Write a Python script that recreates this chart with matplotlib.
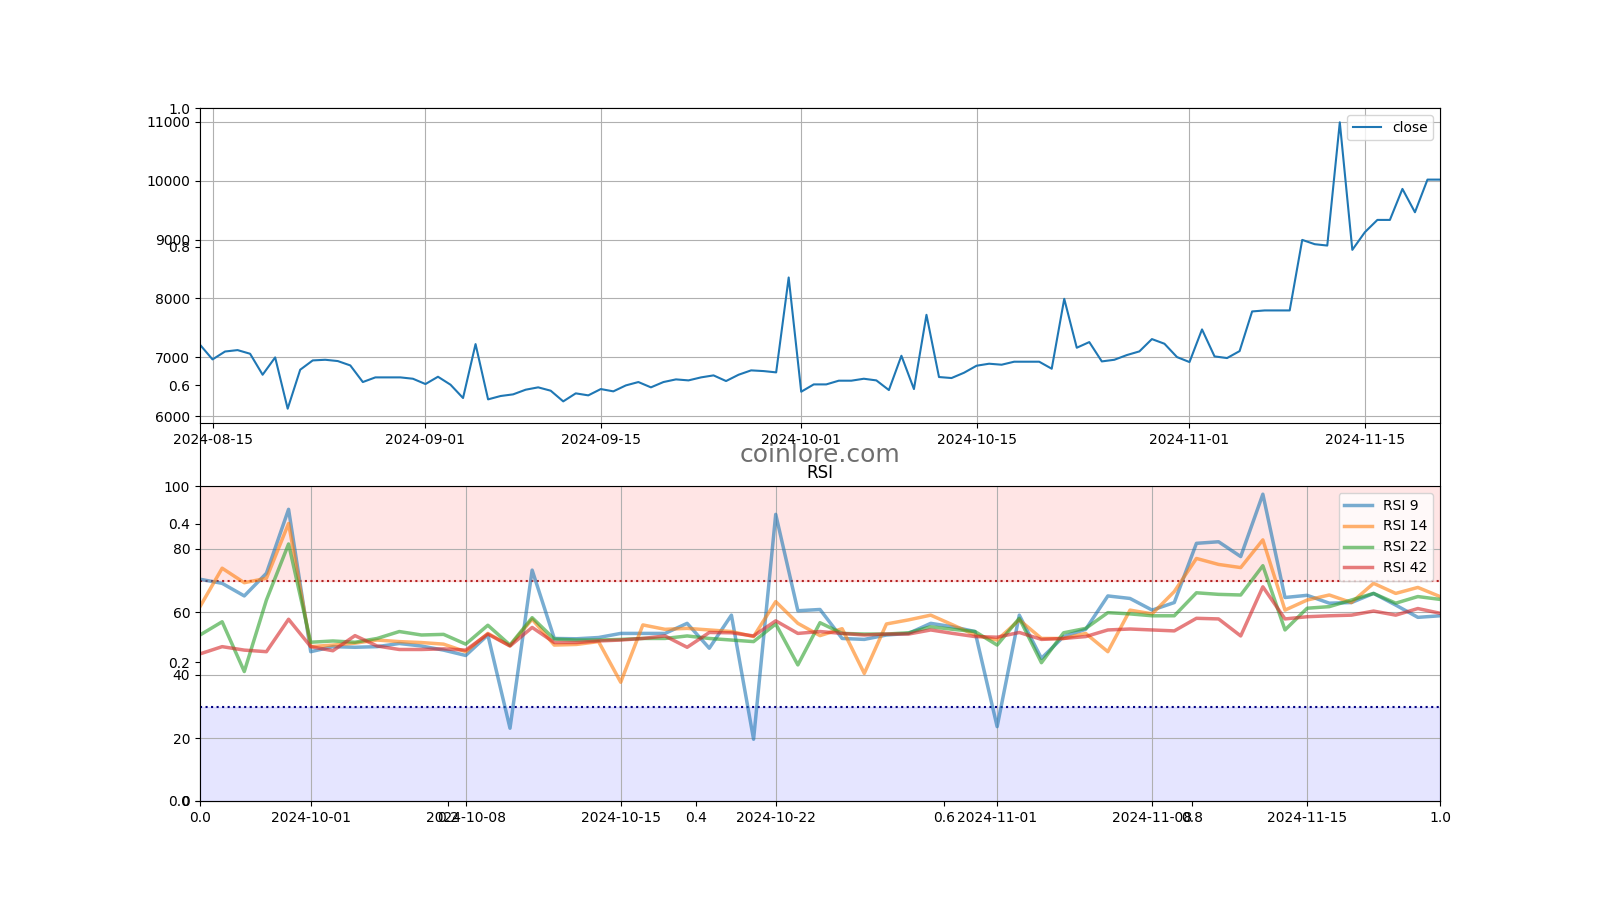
import matplotlib
matplotlib.use('Agg')
import matplotlib.pyplot as plt
import numpy as np
import pandas as pd

close_start = '2024-08-14'
close = [
  7215, 6966, 7100, 7124, 7062, 6706, 7000, 6130, 6791, 6949,
  6960, 6938, 6864, 6582, 6661, 6661, 6661, 6638, 6548, 6672,
  6537, 6311, 7226, 6288, 6345, 6373, 6452, 6492, 6435, 6254,
  6390, 6356, 6463, 6424, 6525, 6582, 6492, 6582, 6627, 6610,
  6661, 6695, 6599, 6706, 6780, 6768, 6746, 8356, 6418, 6542,
  6542, 6605, 6605, 6638, 6610, 6446, 7028, 6463, 7723, 6667,
  6650, 6740, 6859, 6893, 6876, 6927, 6927, 6927, 6808, 7994,
  7164, 7260, 6932, 6960, 7040, 7102, 7311, 7232, 7006, 6921,
  7475, 7017, 6989, 7107, 7780, 7797, 7797, 7797, 8994, 8921,
  8898, 10989, 8825, 9124, 9333, 9333, 9859, 9463, 10017, 10017,
]

rsi_start = '2024-09-26'
rsi_9 = [
  70.4, 69.1, 65.1, 72.3, 92.6, 47.4, 49.0, 48.8, 49.0, 50.0,
  49.2, 47.9, 46.2, 52.7, 23.1, 73.3, 51.6, 51.5,
  51.9, 53.2, 53.2, 53.2, 56.4, 48.5, 59.0, 19.6, 91.0, 60.4,
  60.8, 51.6, 51.3, 52.7, 53.2, 56.4, 55.3, 53.8,
  23.6, 59.0, 45.3, 52.2, 54.5, 65.1, 64.3, 60.6, 63.0, 81.8,
  82.3, 77.6, 97.4, 64.6, 65.3, 62.8, 63.0, 65.9, 62.2, 58.3, 58.8,
]
rsi_14 = [
  61.7, 73.9, 69.3, 70.7, 88.1, 49.0, 49.5, 50.1, 51.1, 50.6,
  50.3, 49.8, 47.4, 53.2, 49.3, 57.7, 49.5, 49.7,
  50.6, 37.7, 55.9, 54.5, 54.8, 54.3, 53.8, 52.2, 63.3, 56.4,
  52.5, 54.7, 40.5, 56.2, 57.5, 59.0, 55.9, 52.7,
  51.1, 57.5, 51.6, 51.6, 53.2, 47.4, 60.6, 59.4, 66.5, 77.0,
  75.1, 74.1, 82.9, 60.6, 63.8, 65.4, 63.0, 69.1, 65.9, 67.8, 64.9,
]
rsi_22 = [
  52.7, 56.9, 41.1, 63.8, 81.6, 50.4, 50.8, 50.4, 51.6, 53.8,
  52.7, 52.9, 49.8, 55.8, 49.5, 58.2, 51.4, 51.1,
  51.1, 51.3, 51.6, 51.6, 52.4, 51.6, 51.1, 50.6, 56.2, 43.2,
  56.6, 53.2, 53.0, 53.0, 53.4, 55.3, 54.5, 53.8,
  49.5, 58.0, 43.9, 53.4, 54.8, 59.8, 59.4, 58.8, 58.8, 66.1,
  65.6, 65.4, 74.7, 54.3, 61.2, 61.7, 63.8, 65.9, 62.8, 64.9, 64.0,
]
rsi_42 = [
  46.7, 49.0, 47.9, 47.4, 57.7, 49.0, 47.7, 52.5, 49.2, 48.1,
  48.1, 48.3, 47.9, 53.0, 49.2, 55.1, 50.3, 50.3,
  50.8, 51.1, 51.6, 52.4, 48.8, 53.5, 53.4, 52.4, 57.2, 53.2,
  53.8, 53.2, 52.7, 53.0, 53.0, 54.3, 53.2, 52.2,
  52.0, 53.5, 51.3, 51.6, 52.2, 54.3, 54.6, 54.3, 54.0, 58.0,
  57.8, 52.4, 68.0, 57.8, 58.5, 58.8, 59.0, 60.3, 59.0, 61.1, 59.6,
]


def main():
  close_dates = pd.date_range(close_start, periods=len(close), freq='D')
  rsi_dates = pd.date_range(rsi_start, periods=len(rsi_9), freq='D')

  fig = plt.figure(figsize=(16, 9), dpi=100)

  # background axes holding the watermark
  bg = fig.add_subplot(111)
  bg.text(0.5, 0.5, 'coinlore.com', transform=bg.transAxes,
          ha='center', va='center', fontsize=18, color='#6e6e6e')

  ax1 = fig.add_subplot(211)
  ax1.plot(close_dates, close, label='close')
  ax1.set_xlim(close_dates[0], close_dates[-1])
  ax1.legend(loc='upper right')
  ax1.grid()

  ax2 = fig.add_subplot(212)
  ax2.axhspan(70, 100, color='red', alpha=0.1)
  ax2.axhspan(0, 30, color='blue', alpha=0.1)
  ax2.axhline(70, color='#b22222', linestyle=':', linewidth=1.5)
  ax2.axhline(30, color='navy', linestyle=':', linewidth=1.5)
  for name, values in [('RSI 9', rsi_9), ('RSI 14', rsi_14),
                       ('RSI 22', rsi_22), ('RSI 42', rsi_42)]:
    ax2.plot(rsi_dates, values, label=name, linewidth=2.5, alpha=0.6)
  ax2.set_xlim(rsi_dates[0], rsi_dates[-1])
  ax2.set_ylim(0, 100)
  ax2.set_title('RSI')
  ax2.legend(loc='upper right')
  ax2.grid()

  fig.savefig('out.png', dpi=100)


if __name__ == "__main__":
  main()
